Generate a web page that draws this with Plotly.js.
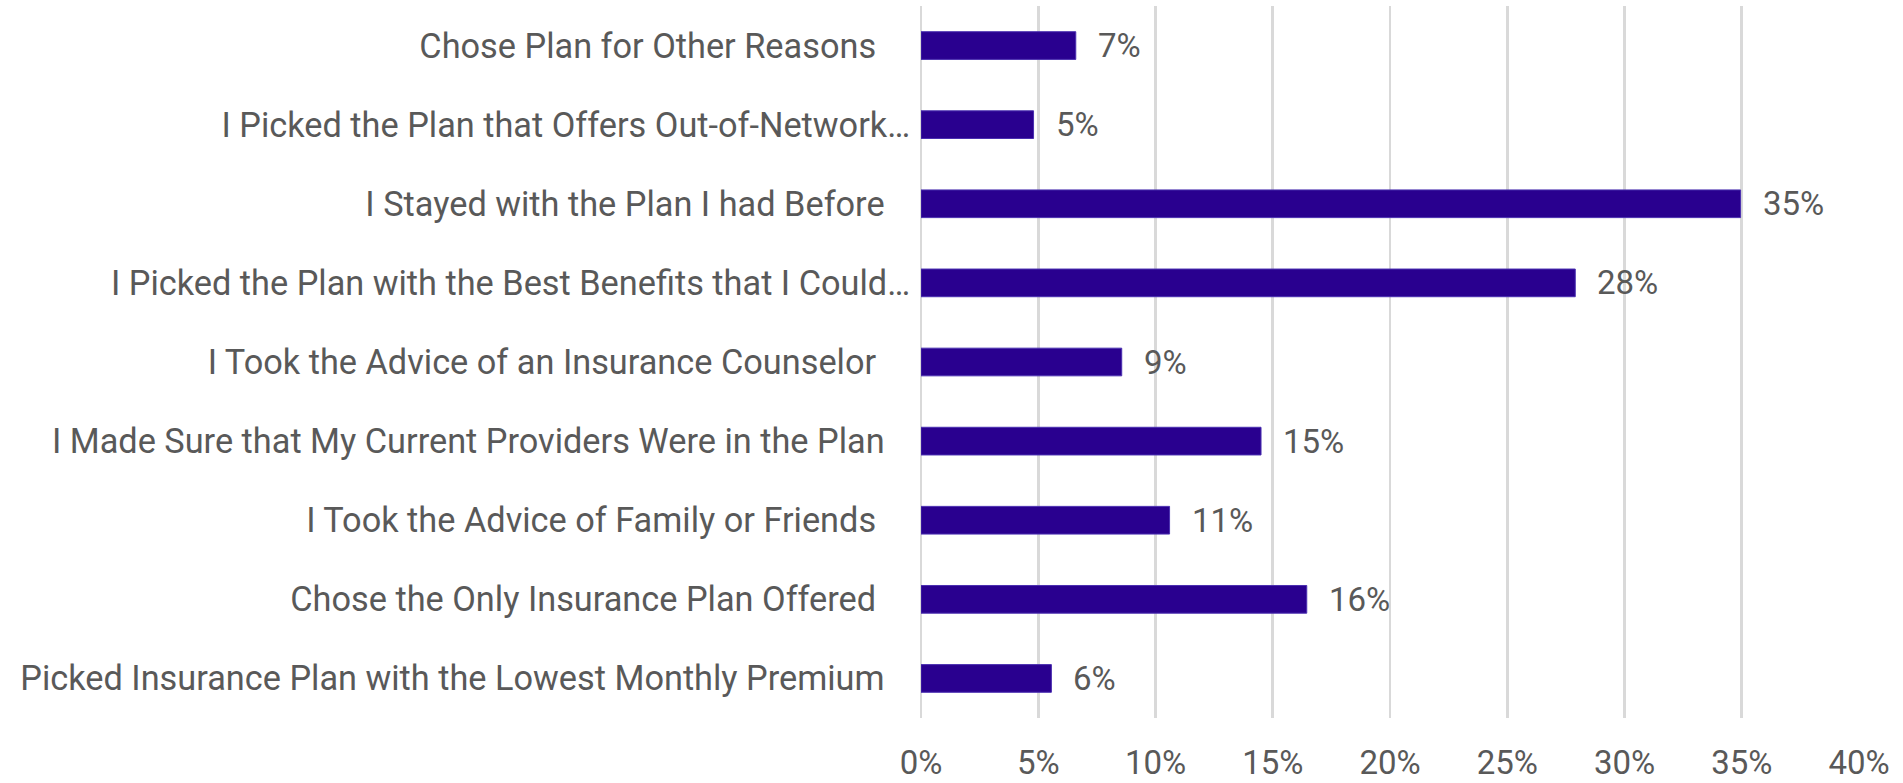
<!DOCTYPE html>
<html>
<head>
<meta charset="utf-8">
<script src="https://cdn.plot.ly/plotly-3.0.1.min.js"></script>
<style>
  html, body { margin: 0; padding: 0; background: #ffffff; }
  #chart { width: 1903px; height: 783px; }
</style>
</head>
<body>
<div id="chart"></div>
<script>
// ---- data (top to bottom, as drawn) ----
const categories = [
  "Chose Plan for Other Reasons",
  "I Picked the Plan that Offers Out-of-Network…",
  "I Stayed with the Plan I had Before",
  "I Picked the Plan with the Best Benefits that I Could…",
  "I Took the Advice of an Insurance Counselor",
  "I Made Sure that My Current Providers Were in the Plan",
  "I Took the Advice of Family or Friends",
  "Chose the Only Insurance Plan Offered",
  "Picked Insurance Plan with the Lowest Monthly Premium"
];
const values = [6.6, 4.8, 34.95, 27.9, 8.56, 14.5, 10.6, 16.45, 5.56];
const xTickValues = [0, 5, 10, 15, 20, 25, 30, 35, 40];
const xTickLabels = ["0%", "5%", "10%", "15%", "20%", "25%", "30%", "35%", "40%"];

// ---- style ----
const FONT = "Roboto, 'Open Sans', sans-serif";
const TEXT_COLOR = "#595959";
const BAR_COLOR = "#29008F";
const GRID_COLOR = "#D9D9D9";
const FONT_SIZE = 33;
const LABEL_FONT_SIZE = 34.3;
// trailing space groups seen in the original labels
const labelPad = [4, 0, 3, 0, 4, 3, 4, 4, 3];
const tickText = categories.map((c, i) => c + "\u00A0".repeat(labelPad[i]));

const trace = {
  type: "bar",
  orientation: "h",
  x: values,
  y: categories,
  marker: { color: BAR_COLOR, line: { color: "#4a2fb0", width: 1 } },
  hoverinfo: "x+y"
};

const annotations = values.map((v, i) => ({
  x: v,
  y: categories[i],
  xref: "x",
  yref: "y",
  text: Math.round(v) + "%",
  showarrow: false,
  xanchor: "left",
  yanchor: "middle",
  xshift: 20,
  font: { family: FONT, size: FONT_SIZE, color: TEXT_COLOR }
}));

const layout = {
  width: 1903,
  height: 783,
  margin: { l: 921, r: 44, t: 6, b: 65, pad: 0 },
  paper_bgcolor: "#ffffff",
  plot_bgcolor: "#ffffff",
  showlegend: false,
  bargap: 0.65,
  font: { family: FONT, size: FONT_SIZE, color: TEXT_COLOR },
  xaxis: {
    range: [0, 40],
    tickvals: xTickValues,
    ticktext: xTickLabels,
    showgrid: true,
    gridcolor: GRID_COLOR,
    gridwidth: 2.7,
    zeroline: true,
    zerolinecolor: GRID_COLOR,
    zerolinewidth: 2.7,
    showline: false,
    ticks: "outside",
    ticklen: 15,
    tickcolor: "rgba(0,0,0,0)",
    tickfont: { family: FONT, size: FONT_SIZE, color: TEXT_COLOR },
    fixedrange: true
  },
  yaxis: {
    type: "category",
    autorange: "reversed",
    tickvals: categories,
    ticktext: tickText,
    showgrid: false,
    zeroline: false,
    showline: false,
    ticks: "outside",
    ticklen: 3,
    tickcolor: "rgba(0,0,0,0)",
    tickfont: { family: FONT, size: LABEL_FONT_SIZE, color: TEXT_COLOR },
    automargin: false,
    fixedrange: true
  },
  annotations: annotations
};

Plotly.newPlot("chart", [trace], layout, { displayModeBar: false, staticPlot: true });
</script>
</body>
</html>
